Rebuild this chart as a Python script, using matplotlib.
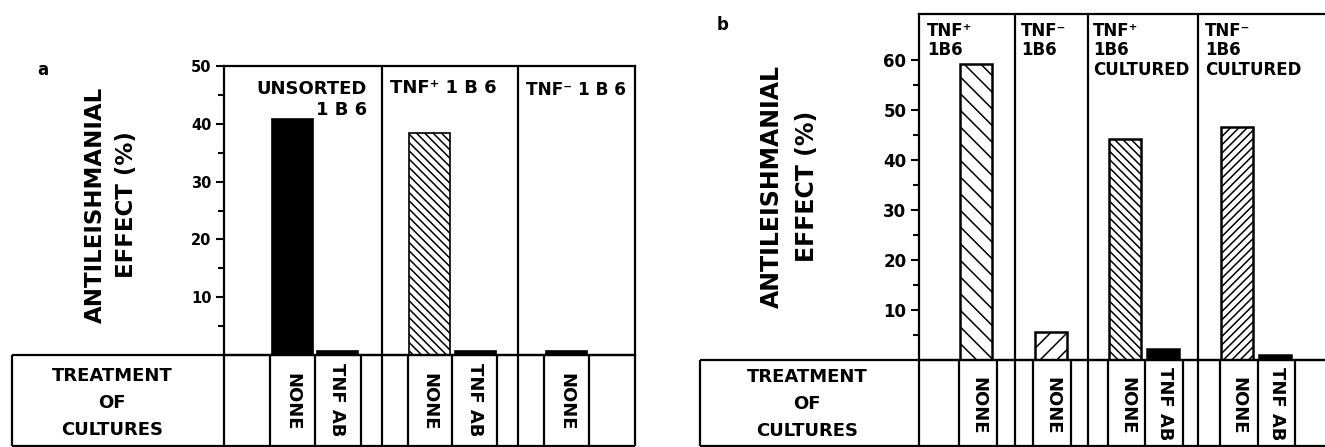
import matplotlib.pyplot as plt

plt.rcParams['font.family'] = ['DejaVu Sans']
plt.rcParams['font.weight'] = 'bold'
plt.rcParams['hatch.linewidth'] = 1.1

# ---- data ----
# panel a
a_groups = ["UNSORTED", "TNF⁺ 1 B 6", "TNF⁻ 1 B 6"]
a_treat = ["NONE", "TNF AB", "NONE", "TNF AB", "NONE"]
a_values = [40.8, 0.7, 38.4, 0.7, 0.7]
a_yticks = [10, 20, 30, 40, 50]

# panel b
b_groups = ["TNF⁺\n1B6", "TNF⁻\n1B6", "TNF⁺\n1B6\nCULTURED", "TNF⁻\n1B6\nCULTURED"]
b_treat = ["NONE", "NONE", "NONE", "TNF AB", "NONE", "TNF AB"]
b_values = [59.2, 5.6, 44.2, 2.2, 46.6, 1.0]
b_yticks = [10, 20, 30, 40, 50, 60]

ylabel = ["ANTILEISHMANIAL", "EFFECT (%)"]
row_label = ["TREATMENT", "OF", "CULTURES"]

# ---- styles / layout (pixel positions in a 1325x447 canvas) ----
a_fill = ["black", "black", "white", "black", "black"]
a_hatch = ["", "", "\\\\\\\\", "", ""]
b_fill = ["white", "white", "white", "black", "white", "black"]
b_hatch = ["\\\\", "//", "\\\\\\\\", "", "////", ""]

a_pos = [292.5, 337.5, 429, 475, 566]
b_pos = [976, 1050.5, 1125, 1162.5, 1236.5, 1275]
a_cols = [12, 224, 270, 315, 361, 382, 408, 452, 497, 518, 544, 589, 635]
b_cols = [700, 919, 959, 997, 1015, 1033, 1071, 1088, 1108, 1145, 1183, 1198, 1220, 1258, 1295]
a_div = [382, 518]
b_div = [1015, 1088, 1198]

W, H = 1325, 447
LW = 1.6

fig = plt.figure(figsize=(W / 100, H / 100), dpi=100)


def px_axes(left, top, right, bottom):
    return fig.add_axes([left / W, 1 - bottom / H, (right - left) / W, (bottom - top) / H])


def style_axis(ax, ticks, ymax, labelsize, right=True):
    ax.set_ylim(0, ymax)
    ax.set_yticks(ticks)
    ax.set_yticks([t - 5 for t in ticks], minor=True)
    ax.set_xticks([])
    ax.tick_params(axis='y', which='major', length=6, width=1.5, labelsize=labelsize, pad=3)
    ax.tick_params(axis='y', which='minor', length=4, width=1.5)
    for s in ax.spines.values():
        s.set_linewidth(LW)
    ax.spines['right'].set_visible(right)
    for lab in ax.get_yticklabels():
        lab.set_fontweight('bold')


# panel a bars
ax_a = px_axes(224, 66, 635, 355)
ax_a.set_xlim(224, 635)
ax_a.bar(a_pos, a_values, width=41, color=a_fill, hatch=a_hatch,
         edgecolor='black', linewidth=1.2)
style_axis(ax_a, a_yticks, 50, 10.5)

# panel b bars
ax_b = px_axes(919, 14, 1325, 360)
ax_b.set_xlim(919, 1325)
ax_b.bar(b_pos, b_values, width=32, color=b_fill, hatch=b_hatch,
         edgecolor='black', linewidth=1.8)
style_axis(ax_b, b_yticks, 69.2, 12, right=False)

# overlay for table grid and text
ov = fig.add_axes([0, 0, 1, 1], zorder=10)
ov.set_xlim(0, W)
ov.set_ylim(H, 0)
ov.axis('off')


def hline(x0, x1, y):
    ov.plot([x0, x1], [y, y], color='black', lw=LW, solid_capstyle='butt')


def vline(x, y0, y1):
    ov.plot([x, x], [y0, y1], color='black', lw=LW, solid_capstyle='butt')


# table a
hline(12, 635, 355)
hline(12, 635, 446)
for x in a_cols:
    vline(x, 355, 446)
for x in a_div:
    vline(x, 66, 355)

# table b
hline(700, 1325, 360)
hline(700, 1325, 446)
for x in b_cols:
    vline(x, 360, 446)
for x in b_div:
    vline(x, 14, 360)

# panel letters
ov.text(43, 70, "a", fontsize=12, ha='center', va='center')
ov.text(723, 25, "b", fontsize=12, ha='center', va='center')

# y labels
for x, s in zip([95, 127], ylabel):
    ov.text(x, 205, s, fontsize=16.5, rotation=90, ha='center', va='center')
for x, s in zip([772, 807], ylabel):
    ov.text(x, 186, s, fontsize=17, rotation=90, ha='center', va='center')

# row labels
for y, s in zip([376, 403, 430], row_label):
    ov.text(112, y, s, fontsize=13, ha='center', va='center')
    ov.text(807, y + 1, s, fontsize=13, ha='center', va='center')

# treatment labels (rotated)
for x, s in zip(a_pos, a_treat):
    ov.text(x, 373 if s == "NONE" else 363, s, fontsize=13, rotation=-90,
            ha='center', va='top')
for x, s in zip(b_pos, b_treat):
    ov.text(x + 2, 377 if s == "NONE" else 367, s, fontsize=13, rotation=-90,
            ha='center', va='top')

# group headers, panel a
ov.text(367, 89, a_groups[0], fontsize=13, ha='right', va='center')
ov.text(367, 110, "1 B 6", fontsize=13, ha='right', va='center')
ov.text(390, 88, a_groups[1], fontsize=13, ha='left', va='center')
ov.text(526, 90, a_groups[2], fontsize=12.2, ha='left', va='center')

# group headers, panel b
for x, s in zip([927, 1021, 1093, 1205], b_groups):
    ov.text(x, 22, s, fontsize=12, ha='left', va='top', linespacing=1.1)

fig.savefig('out.png', dpi=100)
